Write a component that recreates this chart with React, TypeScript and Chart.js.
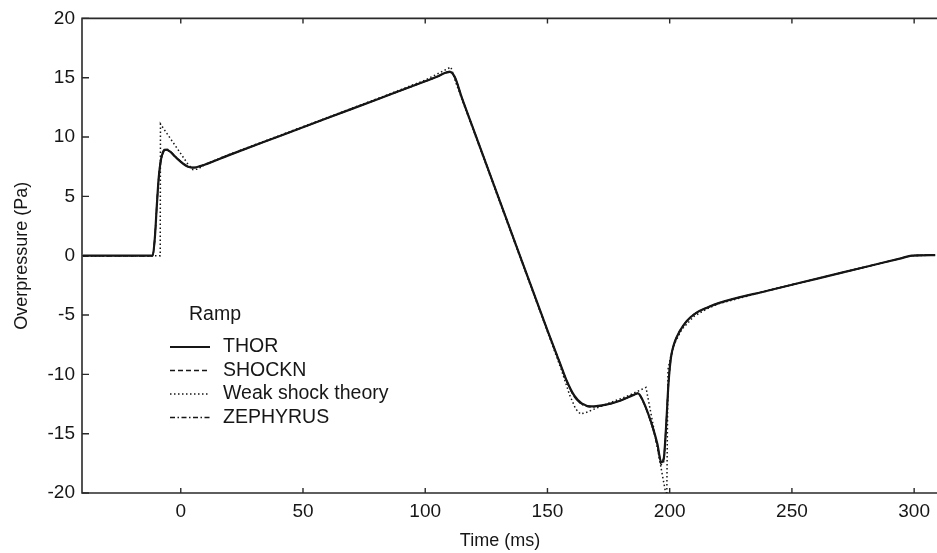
import React, { useEffect, useRef } from "react";
import { Chart, registerables } from "chart.js";

Chart.register(...registerables);

// Time grid (ms) shared by the three numerical models
const MODEL_T = [-40, -11.5, -10.6, -9.8, -9.0, -8.0, -7.0, -6.0, -4.5, -3, -1, 1, 3, 5.5, 8, 20, 40, 60, 80, 100, 105, 108, 110, 112, 115, 120, 130, 140, 150, 155, 158, 161, 164, 168, 174, 180, 185, 187, 189, 191, 193, 195, 196.5, 197.5, 198.5, 199.5, 200.5, 202, 204, 207, 211, 215, 220, 240, 260, 280, 295, 299, 309];

// Overpressure (Pa)
const THOR_P = [0, 0, 1.5, 4.2, 6.6, 8.2, 8.8, 8.95, 8.8, 8.5, 8.1, 7.75, 7.5, 7.42, 7.55, 8.5, 10.05, 11.6, 13.15, 14.7, 15.1, 15.4, 15.5, 15.1, 13.3, 10.5, 4.9, -0.7, -6.3, -9.0, -10.6, -11.8, -12.45, -12.7, -12.55, -12.2, -11.75, -11.6, -12.2, -13.2, -14.4, -15.9, -17.4, -17.2, -14.5, -10.8, -8.6, -7.3, -6.4, -5.5, -4.8, -4.4, -4.0, -2.95, -1.95, -0.95, -0.2, 0, 0.05];
const SHOCKN_P = [0, 0, 1.4, 4.1, 6.5, 8.1, 8.75, 8.9, 8.78, 8.48, 8.1, 7.74, 7.5, 7.43, 7.56, 8.5, 10.05, 11.6, 13.15, 14.7, 15.1, 15.4, 15.45, 15.05, 13.3, 10.5, 4.9, -0.7, -6.3, -9.0, -10.65, -11.9, -12.5, -12.72, -12.55, -12.2, -11.75, -11.62, -12.25, -13.25, -14.5, -16.0, -17.3, -17.1, -14.4, -10.7, -8.6, -7.3, -6.4, -5.5, -4.8, -4.4, -4.0, -2.95, -1.95, -0.95, -0.2, 0, 0.05];
const ZEPHYRUS_P = [0, 0, 1.6, 4.3, 6.7, 8.3, 8.9, 9.0, 8.85, 8.52, 8.12, 7.76, 7.5, 7.42, 7.55, 8.5, 10.05, 11.6, 13.15, 14.7, 15.1, 15.42, 15.52, 15.12, 13.3, 10.5, 4.9, -0.7, -6.3, -9.0, -10.6, -11.85, -12.5, -12.75, -12.58, -12.2, -11.75, -11.58, -12.2, -13.25, -14.5, -16.1, -17.6, -17.4, -14.6, -10.9, -8.7, -7.35, -6.45, -5.5, -4.8, -4.4, -4.0, -2.95, -1.95, -0.95, -0.2, 0, 0.05];

// Weak shock theory keeps the shocks as discontinuities
const WEAK_T = [-40, -8.4, -8.3, -5, -2, 1, 3, 5, 7, 10, 20, 40, 60, 80, 100, 110.5, 112.5, 115, 120, 130, 140, 150, 156, 159, 161.5, 163.5, 166, 170, 176, 182, 190.3, 194, 198.8, 199.3, 200.5, 202, 205, 210, 215, 220, 240, 260, 280, 295, 299, 309];
const WEAK_P = [0, 0, 11.1, 10.1, 9.2, 8.3, 7.7, 7.25, 7.3, 7.7, 8.55, 10.1, 11.65, 13.2, 14.8, 15.9, 14.6, 13.2, 10.4, 4.8, -0.8, -6.4, -9.8, -11.7, -12.9, -13.35, -13.2, -12.85, -12.35, -11.9, -11.1, -15.1, -20.5, -9.6, -8.4, -7.4, -6.2, -5.1, -4.5, -4.05, -2.95, -1.95, -0.95, -0.2, 0, 0.05];

const X_TICKS = [0, 50, 100, 150, 200, 250, 300];
const Y_TICKS = [-20, -15, -10, -5, 0, 5, 10, 15, 20];
const X_TITLE = "Time (ms)";
const Y_TITLE = "Overpressure (Pa)";
const LEGEND_TITLE = "Ramp";
const SERIES_NAMES = ["THOR", "SHOCKN", "Weak shock theory", "ZEPHYRUS"];

const FONT = "'Liberation Sans', Arial, Helvetica, sans-serif";
const INK = "#161616";

const toPoints = (t: number[], p: number[]) => t.map((x, i) => ({ x, y: p[i] }));

// Frame on left, top and bottom with inward tick marks, axis titles and the in-plot legend
const framePlugin = {
  id: "frame",
  beforeDatasetsDraw(chart: any) {
    const { ctx, chartArea } = chart;
    const { left, right, top, bottom } = chartArea;
    const xs = chart.scales.x;
    const ys = chart.scales.y;
    ctx.save();
    ctx.strokeStyle = "#2a2a2a";
    ctx.lineWidth = 1.6;
    ctx.beginPath();
    ctx.moveTo(right + 2, top);
    ctx.lineTo(left, top);
    ctx.lineTo(left, bottom);
    ctx.lineTo(right + 2, bottom);
    ctx.stroke();
    ctx.lineWidth = 1.4;
    ctx.beginPath();
    X_TICKS.forEach((v) => {
      const px = xs.getPixelForValue(v);
      ctx.moveTo(px, bottom);
      ctx.lineTo(px, bottom - 5);
      ctx.moveTo(px, top);
      ctx.lineTo(px, top + 5);
    });
    Y_TICKS.forEach((v) => {
      const py = ys.getPixelForValue(v);
      ctx.moveTo(left, py);
      ctx.lineTo(left + 7, py);
    });
    ctx.stroke();
    ctx.restore();
  },
  afterDraw(chart: any) {
    const { ctx, chartArea } = chart;
    ctx.save();
    ctx.fillStyle = INK;
    ctx.textBaseline = "middle";

    // axis titles
    ctx.font = `18px ${FONT}`;
    ctx.textAlign = "center";
    ctx.fillText(X_TITLE, 500, 541);
    ctx.save();
    ctx.translate(22, (chartArea.top + chartArea.bottom) / 2);
    ctx.rotate(-Math.PI / 2);
    ctx.fillText(Y_TITLE, 0, 0);
    ctx.restore();

    // legend
    ctx.font = `19.5px ${FONT}`;
    ctx.textAlign = "left";
    ctx.fillText(LEGEND_TITLE, 189, 315);
    const rows = [347, 370.5, 394, 417.5];
    chart.data.datasets.forEach((ds: any, i: number) => {
      const y = rows[i];
      ctx.strokeStyle = ds.borderColor;
      ctx.lineWidth = ds.borderWidth;
      ctx.setLineDash(ds.borderDash || []);
      ctx.beginPath();
      ctx.moveTo(170, y);
      ctx.lineTo(210, y);
      ctx.stroke();
      ctx.setLineDash([]);
      ctx.fillText(SERIES_NAMES[i], 223, y);
    });
    ctx.restore();
  },
};

export default function App() {
  const canvasRef = useRef<HTMLCanvasElement | null>(null);

  useEffect(() => {
    document.body.style.margin = "0";
    const canvas = canvasRef.current;
    if (!canvas) return;
    const chart = new Chart(canvas, {
      type: "line",
      data: {
        datasets: [
          {
            label: SERIES_NAMES[0],
            data: toPoints(MODEL_T, THOR_P),
            borderColor: INK,
            borderWidth: 2.2,
            borderDash: [],
            cubicInterpolationMode: "monotone",
            pointRadius: 0,
            order: 0,
          },
          {
            label: SERIES_NAMES[1],
            data: toPoints(MODEL_T, SHOCKN_P),
            borderColor: INK,
            borderWidth: 1.4,
            borderDash: [5, 3],
            cubicInterpolationMode: "monotone",
            pointRadius: 0,
            order: 2,
          },
          {
            label: SERIES_NAMES[2],
            data: toPoints(WEAK_T, WEAK_P),
            borderColor: INK,
            borderWidth: 1.5,
            borderDash: [1.5, 2.5],
            tension: 0,
            pointRadius: 0,
            order: 1,
          },
          {
            label: SERIES_NAMES[3],
            data: toPoints(MODEL_T, ZEPHYRUS_P),
            borderColor: INK,
            borderWidth: 1.4,
            borderDash: [5, 2.5, 1.5, 2.5],
            cubicInterpolationMode: "monotone",
            pointRadius: 0,
            order: 3,
          },
        ],
      },
      options: {
        animation: false,
        responsive: false,
        events: [],
        layout: { padding: { top: 16, right: 0, left: 0, bottom: 0 } },
        plugins: { legend: { display: false }, tooltip: { enabled: false } },
        scales: {
          x: {
            type: "linear",
            min: -40.4,
            max: 308.6,
            grid: { display: false, drawTicks: false },
            border: { display: false },
            afterBuildTicks: (scale: any) => {
              scale.ticks = X_TICKS.map((value) => ({ value }));
            },
            afterFit: (scale: any) => {
              scale.height = 60;
            },
            ticks: {
              color: INK,
              padding: 7,
              maxRotation: 0,
              font: { family: FONT, size: 19 },
            },
            title: { display: false },
          },
          y: {
            type: "linear",
            min: -20,
            max: 20,
            grid: { display: false, drawTicks: false },
            border: { display: false },
            afterBuildTicks: (scale: any) => {
              scale.ticks = Y_TICKS.map((value) => ({ value }));
            },
            afterFit: (scale: any) => {
              scale.width = 82;
            },
            ticks: {
              color: INK,
              padding: 7,
              font: { family: FONT, size: 19 },
            },
            title: { display: false },
          },
        },
      },
      plugins: [framePlugin],
    } as any);
    return () => chart.destroy();
  }, []);

  return (
    <div style={{ width: 937, height: 553 }}>
      <canvas ref={canvasRef} width={937} height={553} style={{ display: "block" }} />
    </div>
  );
}
